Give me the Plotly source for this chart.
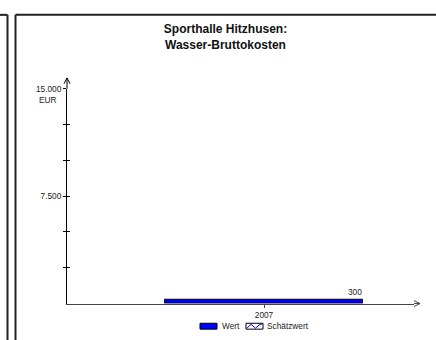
import plotly.graph_objects as go

# ---- data ----
categories = ["2007"]
wert = [300]
wert_labels = ["300"]
y_tickvals = [2500, 5000, 7500, 10000, 12500, 15000]
y_ticktext = ["", "", "7.500", "", "", "15.000"]
y_unit = "EUR"
title_lines = ["Sporthalle Hitzhusen:", "Wasser-Bruttokosten"]
legend_labels = ["Wert", "Schätzwert"]

W, H = 436, 340
FONT = "Liberation Sans, Arial, sans-serif"
BLUE = "#0000FF"
TXT = 8.3


def px(x):
    return x / W


def py(y):
    return 1 - y / H


# plot area in pixels
X0, X1 = 67, 414
Y_TOP, Y_BOT = 85, 303
bar_width = 1.0

fig = go.Figure()
fig.add_trace(go.Bar(
    x=categories, y=wert, width=bar_width,
    marker=dict(color=BLUE, line=dict(color="black", width=1)),
    showlegend=False, hoverinfo="x+y",
))
# helper trace so the crossing-tick overlay axis is drawn
fig.add_trace(go.Scatter(x=categories, y=[None] * len(categories), yaxis="y2",
                         mode="markers", showlegend=False, hoverinfo="skip"))

# value label at right end of bar
for i, (c, v, t) in enumerate(zip(categories, wert, wert_labels)):
    fig.add_annotation(x=i + bar_width / 2, y=v, xref="x", yref="y", text=t,
                       showarrow=False, xanchor="right", yanchor="bottom",
                       xshift=1, font=dict(size=TXT, color="#222", family=FONT))

shapes = []
# frame lines
frame = dict(type="line", xref="paper", yref="paper",
             line=dict(color="#222", width=2))
shapes += [
    dict(frame, x0=px(0), x1=px(7.5), y0=py(10), y1=py(10)),
    dict(frame, x0=px(7.5), x1=px(7.5), y0=py(10), y1=py(342)),
    dict(frame, x0=px(15.5), x1=px(437), y0=py(10), y1=py(10)),
    dict(frame, x0=px(15.5), x1=px(15.5), y0=py(10), y1=py(342)),
]
# axis extensions and arrow heads
ax = dict(type="line", xref="paper", yref="paper")
shapes += [
    dict(ax, x0=px(X0), x1=px(X0), y0=py(Y_TOP), y1=py(74), line=dict(color="black", width=1)),
    dict(type="path", xref="paper", yref="paper",
         path=f"M {px(X0-3)} {py(80)} L {px(X0)} {py(74)} L {px(X0+3)} {py(80)}",
         line=dict(color="black", width=1)),
    dict(ax, x0=px(X1), x1=px(420), y0=py(Y_BOT), y1=py(Y_BOT), line=dict(color="#444", width=1)),
    dict(type="path", xref="paper", yref="paper",
         path=f"M {px(414)} {py(300)} L {px(420)} {py(Y_BOT)} L {px(414)} {py(306)}",
         line=dict(color="#444", width=1)),
]
# legend symbols
shapes += [
    dict(type="rect", xref="paper", yref="paper", x0=px(200), x1=px(217),
         y0=py(329), y1=py(323), fillcolor=BLUE, line=dict(color="black", width=1)),
    dict(type="rect", xref="paper", yref="paper", x0=px(246), x1=px(263),
         y0=py(329), y1=py(323), fillcolor="white", line=dict(color="black", width=1)),
    dict(type="path", xref="paper", yref="paper",
         path=(f"M {px(247)} {py(328)} L {px(251)} {py(324)} L {px(255.5)} {py(328)} "
               f"L {px(260)} {py(324)} L {px(262)} {py(324)}"),
         line=dict(color=BLUE, width=1)),
]
fig.update_layout(shapes=shapes)

fig.add_annotation(x=px(220), y=py(326), xref="paper", yref="paper", text=legend_labels[0],
                   showarrow=False, xanchor="left", yanchor="middle",
                   font=dict(size=TXT, color="#222", family=FONT))
fig.add_annotation(x=px(265), y=py(326), xref="paper", yref="paper", text=legend_labels[1],
                   showarrow=False, xanchor="left", yanchor="middle",
                   font=dict(size=TXT, color="#222", family=FONT))
fig.add_annotation(x=px(48), y=py(96), xref="paper", yref="paper", text=y_unit,
                   showarrow=False, xanchor="center", yanchor="middle",
                   font=dict(size=TXT, color="#222", family=FONT))

bar_center_px = 264
left = -(bar_center_px - X0) / 198
right = (X1 - bar_center_px) / 198

fig.update_layout(
    width=W, height=H,
    margin=dict(l=0, r=0, t=0, b=0),
    paper_bgcolor="white", plot_bgcolor="white",
    font=dict(family=FONT, size=TXT, color="#222"),
    title=dict(text="<b>" + "<br>".join(title_lines) + "</b>",
               x=px(225.5), y=py(33), xanchor="center", yanchor="middle",
               font=dict(size=12, color="#111", family=FONT)),
    xaxis=dict(domain=[px(X0), px(X1)], type="category", range=[left, right],
               showline=True, linecolor="#444", linewidth=1,
               ticks="outside", ticklen=3, tickcolor="#444",
               showgrid=False, zeroline=False, fixedrange=True,
               tickfont=dict(size=TXT, family=FONT, color="#222")),
    yaxis=dict(domain=[py(Y_BOT), py(Y_TOP)], range=[0, 15000],
               showline=True, linecolor="black", linewidth=1,
               tickvals=y_tickvals, ticktext=y_ticktext,
               ticks="outside", ticklen=3, tickcolor="black",
               showgrid=False, zeroline=False, fixedrange=True,
               tickfont=dict(size=TXT, family=FONT, color="#222")),
    yaxis2=dict(domain=[py(Y_BOT), py(Y_TOP)], range=[0, 15000], overlaying="y",
                anchor="x", side="left",
                tickvals=y_tickvals, ticks="inside", ticklen=3, tickcolor="black",
                showticklabels=False, showgrid=False, zeroline=False, showline=False,
                fixedrange=True),
    bargap=0,
)

fig.write_html("out.html", config={"displayModeBar": False},
               post_script="document.body.style.margin='0';")
